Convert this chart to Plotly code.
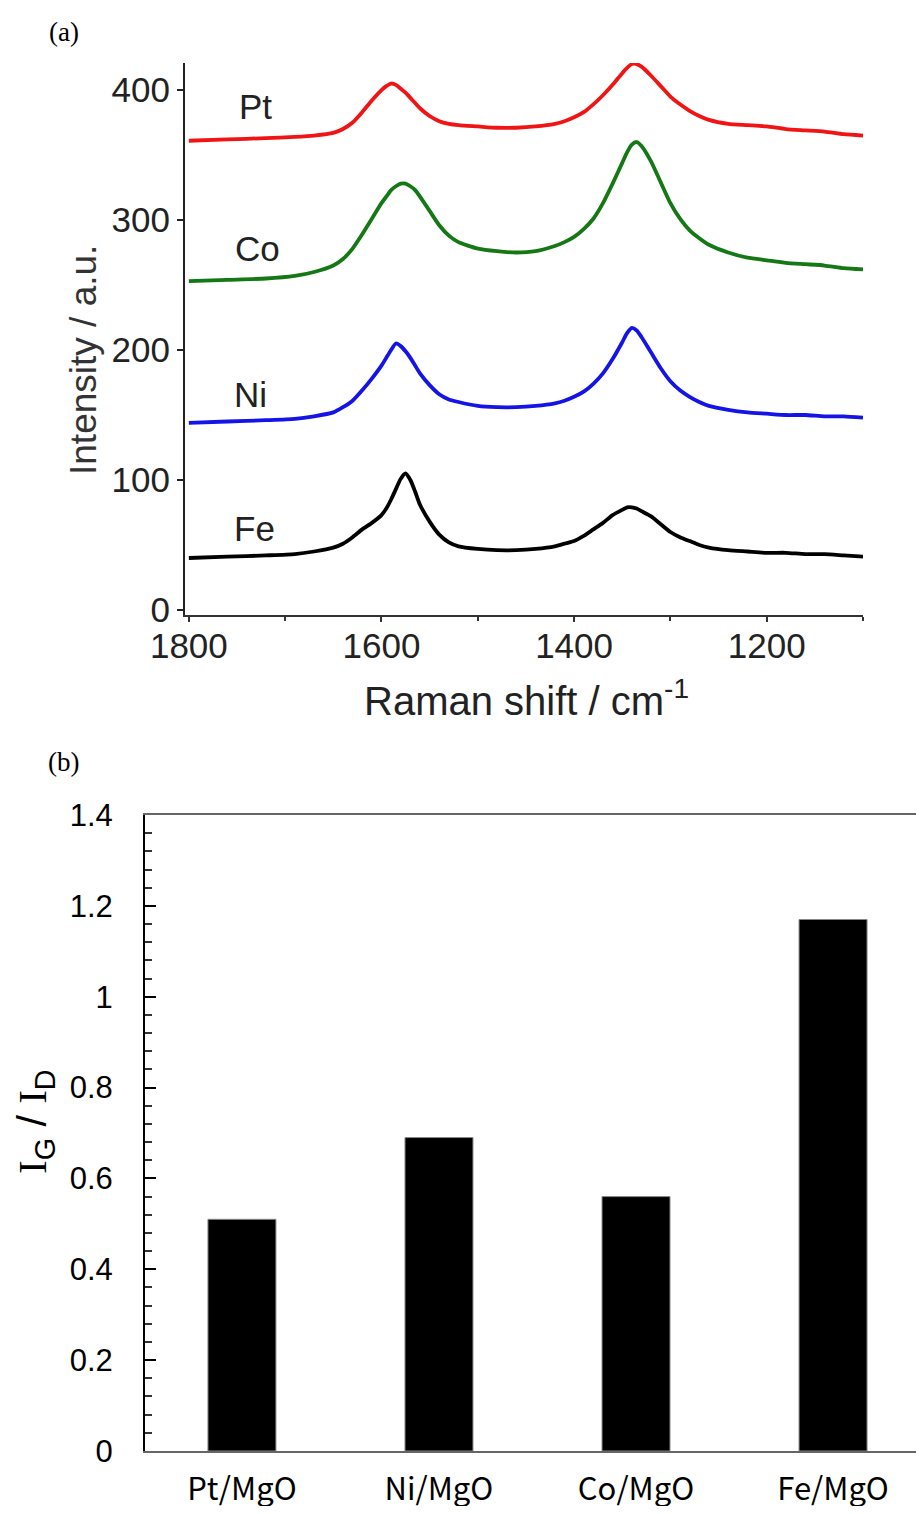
import plotly.graph_objects as go

# ---------------- data ----------------
wavenumber = [1800, 1760, 1720, 1690, 1670, 1650, 1640, 1630, 1620, 1610, 1600, 1595,
              1590, 1585, 1580, 1575, 1570, 1565, 1560, 1550, 1540, 1530, 1520, 1500,
              1480, 1460, 1440, 1420, 1410, 1400, 1390, 1380, 1370, 1360, 1350, 1345,
              1340, 1335, 1330, 1320, 1310, 1300, 1290, 1280, 1270, 1260, 1240, 1220,
              1200, 1180, 1160, 1140, 1120, 1100]

pt_intensity = [361, 362, 363, 364, 365, 367, 370, 375, 383, 392, 400, 403,
                405, 404, 401, 398, 394, 390, 386, 380, 376, 374, 373, 372,
                371, 371, 372, 374, 376, 379, 383, 389, 396, 404, 413, 417,
                420, 420, 418, 411, 403, 395, 389, 384, 380, 377, 374, 373,
                372, 370, 369, 368, 366, 365]

co_intensity = [253, 254, 255, 257, 260, 265, 270, 278, 289, 301, 313, 318,
                323, 326, 328, 328, 326, 323, 318, 307, 296, 288, 283, 278,
                276, 275, 276, 280, 283, 287, 293, 301, 313, 328, 344, 352,
                358, 360, 357, 345, 329, 313, 301, 292, 286, 281, 275, 271,
                269, 267, 266, 265, 263, 262]

ni_intensity = [144, 145, 146, 147, 149, 152, 156, 161, 169, 178, 188, 194,
                200, 205, 203, 199, 194, 188, 182, 173, 166, 162, 160, 157,
                156, 156, 157, 159, 161, 164, 168, 174, 182, 193, 206, 213,
                217, 215, 210, 198, 186, 176, 169, 164, 160, 157, 154, 152,
                151, 150, 150, 149, 149, 148]

fe_intensity = [40, 41, 42, 43, 45, 48, 51, 56, 62, 67, 73, 78,
                85, 93, 101, 105, 100, 91, 81, 68, 58, 52, 49, 47,
                46, 46, 47, 49, 51, 53, 57, 62, 67, 73, 77, 79,
                79, 78, 76, 72, 66, 60, 56, 53, 50, 48, 46, 45,
                44, 44, 43, 43, 42, 41]

spectra_names = ["Pt", "Co", "Ni", "Fe"]
spectra_colors = ["#f01414", "#147814", "#1414e6", "#000000"]
label_pos_x = [1731, 1729, 1736, 1732]
label_pos_y = [387, 278, 166, 63]

catalysts = ["Pt/MgO", "Ni/MgO", "Co/MgO", "Fe/MgO"]
ig_id_ratio = [0.51, 0.69, 0.56, 1.17]

# ---------------- figure ----------------
# the page body has an 8 px margin, so the figure is 16 px smaller than the window
OFF = 8
W, H = 924 - 2 * OFF, 1514 - 2 * OFF


def px_x(px):
    return (px - OFF) / W


def px_y(py):
    return 1 - (py - OFF) / H


fig = go.Figure()

for name, ys, col in zip(spectra_names,
                         [pt_intensity, co_intensity, ni_intensity, fe_intensity],
                         spectra_colors):
    fig.add_trace(go.Scatter(x=wavenumber, y=ys, mode="lines", name=name,
                             line=dict(color=col, width=3.8, shape="spline", smoothing=0.6),
                             xaxis="x", yaxis="y", showlegend=False))

fig.add_trace(go.Bar(x=catalysts, y=ig_id_ratio, width=0.345,
                     marker=dict(color="black", line=dict(color="#888", width=1)),
                     xaxis="x2", yaxis="y2", showlegend=False))

sans = "Liberation Sans, Arial, sans-serif"
serif = "Liberation Serif, Times New Roman, serif"
gothic = "Noto Sans CJK JP, sans-serif"

fig.update_layout(
    template="none",
    width=W, height=H,
    margin=dict(l=0, r=0, t=0, b=0, pad=0, autoexpand=False),
    paper_bgcolor="white", plot_bgcolor="white",
    xaxis=dict(domain=[px_x(185), px_x(863)], range=[1804, 1100], anchor="y",
               automargin=False,
               showline=True, linecolor="#333", linewidth=2,
               ticks="outside", ticklen=5, tickcolor="#333", tickwidth=2,
               tick0=1200, dtick=200,
               minor=dict(ticks="outside", dtick=100, ticklen=4, tickcolor="#333", tickwidth=2),
               showgrid=False, zeroline=False,
               ticklabelstandoff=-6,
               tickfont=dict(family=sans, size=35, color="#222")),
    yaxis=dict(domain=[px_y(615), px_y(63)], range=[-3.85, 420.8], anchor="x",
               automargin=False,
               showline=True, linecolor="#222", linewidth=2,
               ticks="outside", ticklen=6, tickcolor="#222", tickwidth=2,
               tick0=0, dtick=100, showgrid=False, zeroline=False,
               tickfont=dict(family=sans, size=35, color="#222")),
    xaxis2=dict(domain=[px_x(145), 1.0], range=[-0.492, 3.421], anchor="y2",
                automargin=False, type="category",
                showline=True, linecolor="#666", linewidth=2, mirror=True,
                ticks="", showgrid=False, zeroline=False,
                ticklabelstandoff=10,
                tickfont=dict(family=gothic, size=31, color="black")),
    yaxis2=dict(domain=[px_y(1451), px_y(815)], range=[0, 1.4], anchor="x2",
                automargin=False,
                showline=True, linecolor="black", linewidth=2,
                ticks="inside", ticklen=11, tickcolor="black", tickwidth=1.5,
                tick0=0, dtick=0.2,
                minor=dict(ticks="inside", dtick=0.04, ticklen=7, tickcolor="#333", tickwidth=1.5),
                showgrid=False, zeroline=False,
                ticklabelstandoff=24,
                tickfont=dict(family=sans, size=31, color="black")),
)

annotations = []
for name, lx, ly in zip(spectra_names, label_pos_x, label_pos_y):
    annotations.append(dict(text=name, x=lx, y=ly, xref="x", yref="y", showarrow=False,
                            xanchor="center", yanchor="middle",
                            font=dict(family=sans, size=35, color="#222")))


def paper_note(text, px, py, size, family, color="black", angle=0):
    return dict(text=text, x=px_x(px), y=px_y(py), xref="paper", yref="paper",
                showarrow=False, xanchor="center", yanchor="middle", textangle=angle,
                font=dict(family=family, size=size, color=color))


annotations += [
    paper_note("(a)", 64, 32, 27, serif),
    paper_note("(b)", 63, 762, 27, serif),
    paper_note("Intensity / a.u.", 84, 360, 37, sans, "#333", -90),
    paper_note("Raman shift / cm<sup>-1</sup>", 526, 698, 40, sans, "#222"),
    paper_note("<span style='font-family:Liberation Serif'>I</span><sub>G</sub>"
               " / <span style='font-family:Liberation Serif'>I</span><sub>D</sub>",
               35, 1122, 41, sans, "black", -90),
]
fig.update_layout(annotations=annotations)

fig.write_html("out.html")
